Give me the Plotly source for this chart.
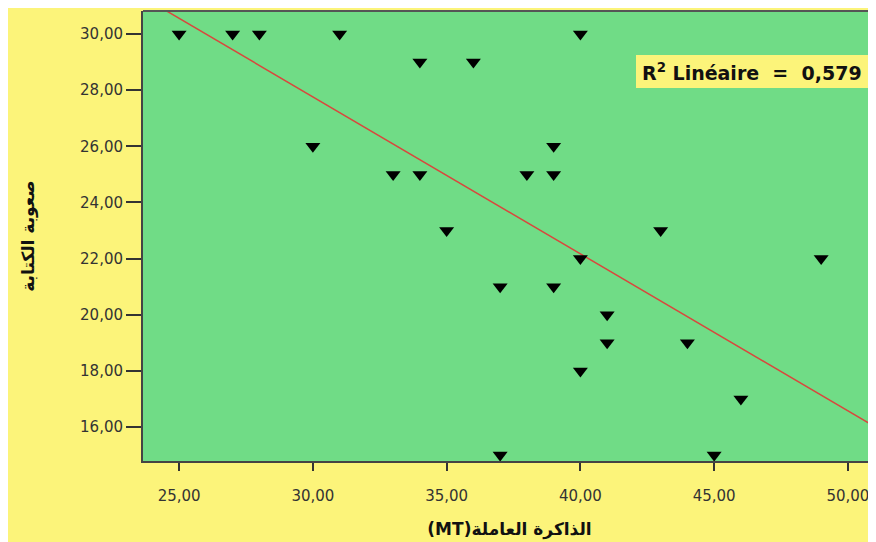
import numpy as np
import plotly.graph_objects as go

# Data (working memory MT vs writing difficulty)
mt_scores = [25, 27, 28, 31, 40, 34, 36, 30, 39, 33, 34, 38, 39, 35, 43, 40, 49, 37, 39, 41, 41, 44, 40, 46, 37, 45]
writing_scores = [30, 30, 30, 30, 30, 29, 29, 26, 26, 25, 25, 25, 25, 23, 23, 22, 22, 21, 21, 20, 19, 19, 18, 17, 15, 15]

x_tickvals = [25, 30, 35, 40, 45, 50]
x_ticktext = ["25,00", "30,00", "35,00", "40,00", "45,00", "50,00"]
y_tickvals = [16, 18, 20, 22, 24, 26, 28, 30]
y_ticktext = ["16,00", "18,00", "20,00", "22,00", "24,00", "26,00", "28,00", "30,00"]

x_title = "(MT)الذاكرة العاملة"
y_title = "صعوبة الكتابة"
r2_label = "R<sup>2</sup> Linéaire&nbsp; =&nbsp; 0,579"

x_range = [23.65, 51.05]
y_range = [14.79, 30.82]

# page body margin of 8px gives the white band at top/left
W, H = 868, 534
ML, MR, MT_, MB = 135, 0, 3, 81
pw, ph = W - ML - MR, H - MT_ - MB

def px_x(p):  # page pixel -> paper
    return (p - 8 - ML) / pw

def px_y(p):
    return (H - MB - (p - 8)) / ph

slope, intercept = np.polyfit(mt_scores, writing_scores, 1)
line_x = np.array(x_range)
line_y = slope * line_x + intercept

fig = go.Figure()
fig.add_trace(go.Scatter(
    x=list(line_x), y=list(line_y), mode="lines",
    line=dict(color="#d9473d", width=1.5), hoverinfo="skip", showlegend=False,
))
fig.add_trace(go.Scatter(
    x=mt_scores, y=writing_scores, mode="markers",
    marker=dict(symbol="triangle-down", size=13, color="black", line=dict(width=0)),
    showlegend=False,
))

tickfont = dict(family="DejaVu Sans", size=15, color="#333333")
fig.update_layout(
    width=W, height=H,
    margin=dict(l=ML, r=MR, t=MT_, b=MB),
    paper_bgcolor="#fcf47a",
    plot_bgcolor="#70dc86",
    xaxis=dict(
        range=x_range, tickvals=x_tickvals, ticktext=x_ticktext,
        showgrid=False, zeroline=False, showline=True, linecolor="#444444", linewidth=2,
        ticks="outside", ticklen=8, tickwidth=2, tickcolor="#333333",
        tickfont=tickfont, ticklabelstandoff=12,
        title=dict(text=x_title, font=dict(family="DejaVu Sans", size=17, color="#111111", weight="bold"), standoff=19),
    ),
    yaxis=dict(
        range=y_range, tickvals=y_tickvals, ticktext=y_ticktext,
        showgrid=False, zeroline=False, showline=True, linecolor="#444444", linewidth=2,
        ticks="outside", ticklen=15, tickwidth=2, tickcolor="#333333",
        tickfont=tickfont, ticklabelstandoff=0,
        title=dict(text=y_title, font=dict(family="DejaVu Sans", size=17, color="#111111", weight="bold"), standoff=41),
    ),
    shapes=[
        dict(type="line", xref="paper", yref="paper", x0=0, x1=1.05, y0=1, y1=1,
             line=dict(color="#555555", width=2)),
        dict(type="rect", xref="paper", yref="paper", layer="above",
             x0=px_x(636), x1=1.05, y0=px_y(88), y1=px_y(55),
             fillcolor="#fcf47a", line=dict(width=0)),
    ],
    annotations=[
        dict(text=r2_label, xref="paper", yref="paper", x=px_x(640), y=px_y(71.5),
             xanchor="left", yanchor="middle", showarrow=False,
             font=dict(family="DejaVu Sans", size=19, color="#111111", weight="bold")),
    ],
)

fig.write_html("out.html")
